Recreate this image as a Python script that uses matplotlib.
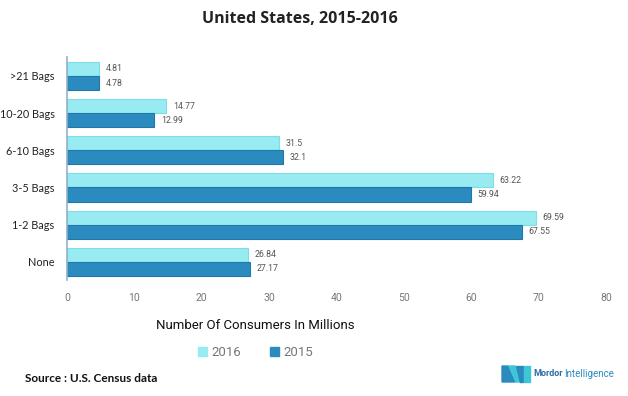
import matplotlib
matplotlib.use('Agg')
import matplotlib.pyplot as plt
from matplotlib.patches import Polygon, Patch

categories = ['None', '1-2 Bags', '3-5 Bags', '6-10 Bags', '10-20 Bags', '>21 Bags']
vals_2016 = [26.84, 69.59, 63.22, 31.5, 14.77, 4.81]
vals_2015 = [27.17, 67.55, 59.94, 32.1, 12.99, 4.78]
xticks = [0, 10, 20, 30, 40, 50, 60, 70, 80]

c16 = '#98ebf0'
c15 = '#2b8bbf'

fig = plt.figure(figsize=(6.28, 3.96), dpi=100)
ax = fig.add_axes([0.1067, 0.292, 0.858, 0.563])

h = 0.38
y = list(range(len(categories)))
y16 = [v + h / 2 for v in y]
y15 = [v - h / 2 for v in y]
ax.barh(y16, vals_2016, height=h, color=c16, edgecolor='#7fdde6', linewidth=0.8)
ax.barh(y15, vals_2015, height=h, color=c15, edgecolor='#2077a8', linewidth=0.8)

narrow = 'Roboto'
for yy, v in zip(y16, vals_2016):
    ax.text(v + 1.0, yy, f'{v:g}', va='center', ha='left', fontsize=6.3, color='#555555', family=narrow)
for yy, v in zip(y15, vals_2015):
    ax.text(v + 1.0, yy, f'{v:g}', va='center', ha='left', fontsize=6.3, color='#555555', family=narrow)

ax.set_xlim(0, 80)
ax.set_ylim(-0.5, len(categories) - 0.5)
ax.set_xticks(xticks)
ax.set_yticks(y)
ax.set_yticklabels(categories, fontsize=7.8, color='#222222', family='Lato')
ax.tick_params(axis='x', length=0, labelsize=7.5, labelcolor='#777777', pad=9)
ax.tick_params(axis='y', length=0, pad=9)
for lab in ax.get_xticklabels():
    lab.set_family(narrow)
for s in ['top', 'right', 'bottom']:
    ax.spines[s].set_visible(False)
ax.spines['left'].set_color('#8fb3cf')
ax.spines['left'].set_linewidth(1.2)

fig.text(0.478, 0.953, 'United States, 2015-2016', ha='center', va='center',
         fontsize=11.5, fontweight='bold', family='Open Sans', color='#222222')
fig.text(0.407, 0.178, 'Number Of Consumers In Millions', ha='center', va='center',
         fontsize=9.5, family=narrow, color='#111111')

handles = [Patch(color=c16, label='2016'), Patch(color=c15, label='2015')]
leg = fig.legend(handles=handles, loc='center', bbox_to_anchor=(0.407, 0.11), ncol=2,
                 frameon=False, handlelength=0.7, handleheight=0.7, handletextpad=0.3,
                 columnspacing=2.2, prop={'family': narrow, 'size': 9.5})
for t in leg.get_texts():
    t.set_color('#777777')

fig.text(0.04, 0.045, 'Source : U.S. Census data', ha='left', va='center',
         fontsize=8.5, fontweight='bold', family='Lato', color='#111111')

# logo
W, H = 628.0, 396.0
def fp(pts):
    return [(px / W, 1 - py / H) for px, py in pts]
fig.patches.append(Polygon(fp([(502, 366), (508, 366), (515, 382), (502, 382)]), closed=True,
                           transform=fig.transFigure, color='#2b8bbf'))
fig.patches.append(Polygon(fp([(509, 366), (515, 366), (522, 382), (516, 382)]), closed=True,
                           transform=fig.transFigure, color='#3fc6d6'))
fig.patches.append(Polygon(fp([(516, 366), (523, 366), (523, 382), (520, 382)]), closed=True,
                           transform=fig.transFigure, color='#2b8bbf'))
fig.patches.append(Polygon(fp([(524, 366), (530, 366), (530, 382), (524, 382)]), closed=True,
                           transform=fig.transFigure, color='#3fc6d6'))
fig.text(533 / W, 1 - 374 / H, 'Mordor', ha='left', va='center', fontsize=6.5,
         color='#2b6fa8', family=narrow, fontweight='bold')
fig.text(564 / W, 1 - 374 / H, 'Intelligence', ha='left', va='center', fontsize=7,
         color='#2b8bbf', family=narrow)

fig.savefig('out.png', dpi=100, facecolor='white')
